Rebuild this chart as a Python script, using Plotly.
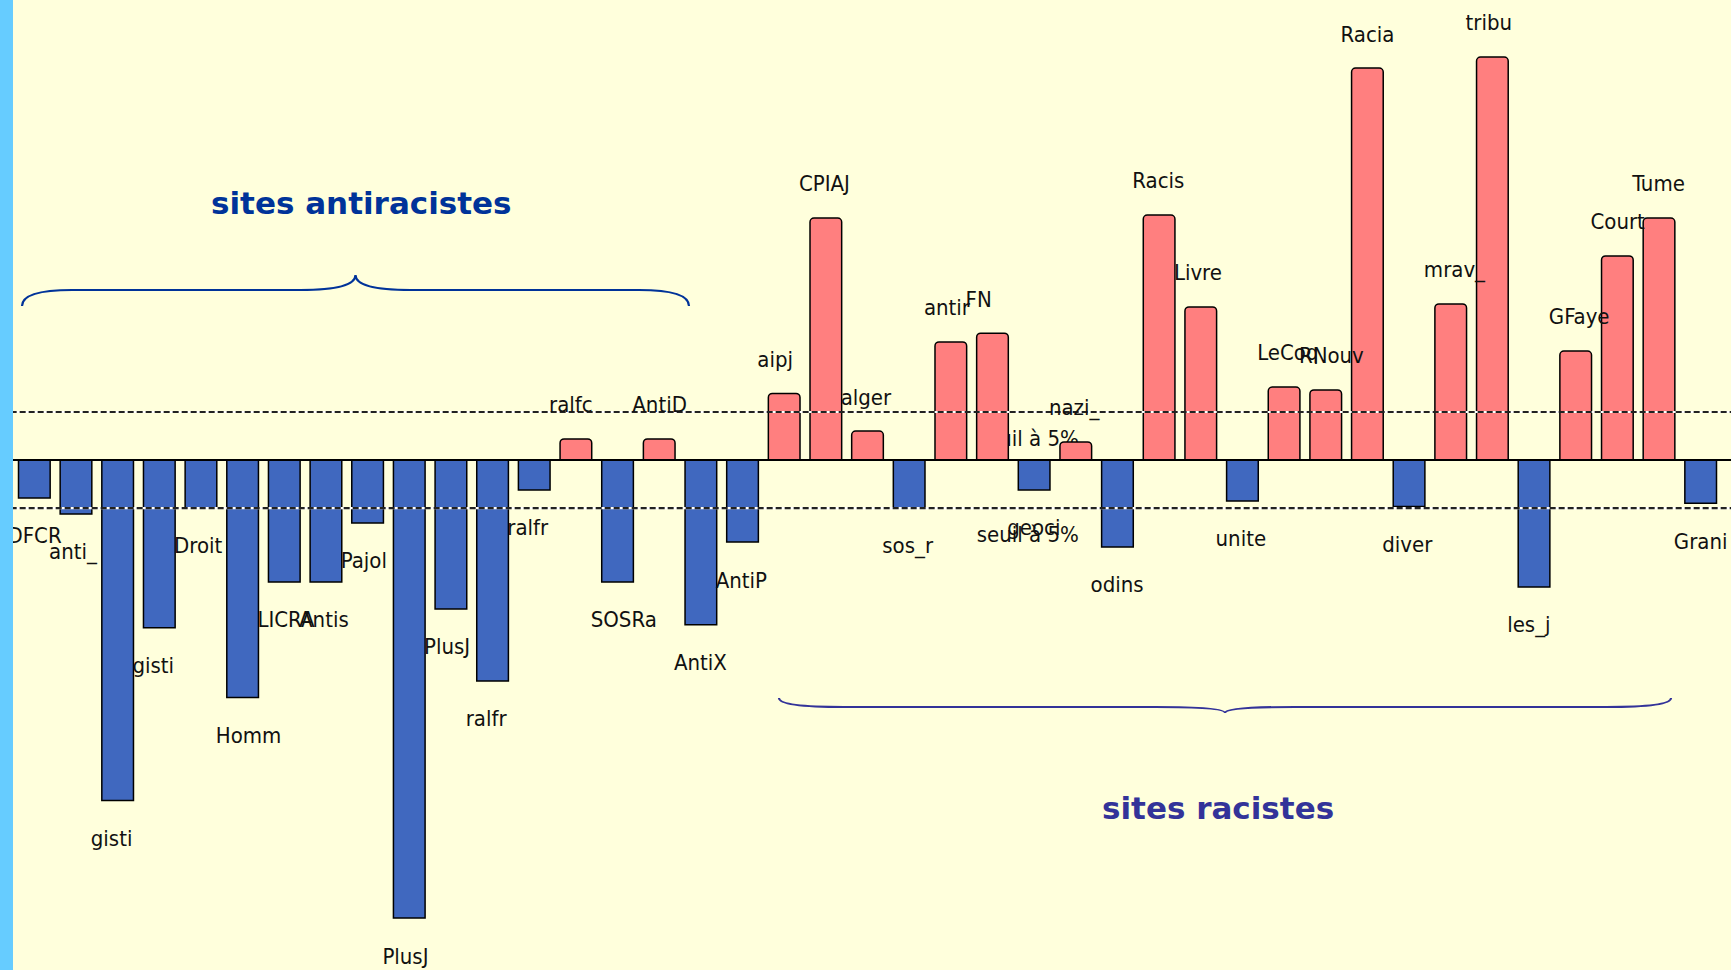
import plotly.graph_objects as go

# ---------------- data ----------------
sites = ["DFCR", "anti_", "gisti", "gisti", "Droit", "Homm", "LICRA", "Antis", "Pajol",
         "PlusJ", "PlusJ", "ralfr", "ralfr", "ralfc", "SOSRa", "AntiD", "AntiX", "AntiP",
         "aipj", "CPIAJ", "alger", "sos_r", "antir", "FN", "geoci", "nazi_", "odins",
         "Racis", "Livre", "unite", "LeCoq", "RNouv", "Racia", "diver", "mrav_", "tribu",
         "les_j", "GFaye", "Court", "Tume", "Grani"]
residus = [-1.55, -2.2, -13.9, -6.85, -1.96, -9.7, -4.98, -4.98, -2.57,
           -18.7, -6.08, -9.02, -1.22, 0.86, -4.98, 0.86, -6.73, -3.35,
           2.72, 9.88, 1.18, -1.96, 4.82, 5.18, -1.22, 0.74, -3.55,
           10.0, 6.25, -1.67, 2.98, 2.86, 16.0, -1.9, 6.37, 16.45,
           -5.18, 4.45, 8.33, 9.88, -1.76]
seuil = 1.96
seuil_label = "seuil à 5%"
groupes = ["sites antiracistes", "sites racistes"]

# ---------------- layout constants ----------------
W, H = 1731, 970
ML = 13
N = len(sites)
X_RANGE = [-0.512, N - 0.272]
Y_RANGE = [-20.82, 18.78]
BG = "#FFFFDC"
STRIP = "#66CCFF"
BLUE = "#4068BF"
PINK = "#FF7F7F"
LABEL_FONT = dict(family="Liberation Sans Narrow, DejaVu Sans Condensed, Liberation Sans, sans-serif",
                  size=22, color="#111111")
OFF_POS, OFF_NEG, OFF_X = 1.31, 1.63, 0.645
SEUIL_X = 22.62
SEUIL_OFF = 1.16

idx = list(range(N))
neg = [v if v < 0 else None for v in residus]
pos = [v if v > 0 else None for v in residus]

fig = go.Figure()

# threshold label for the upper line, on the base subplot (drawn under the bars)
fig.add_trace(go.Scatter(x=[SEUIL_X], y=[seuil - SEUIL_OFF], mode="text", text=[seuil_label],
                         textposition="middle right", textfont=LABEL_FONT,
                         hoverinfo="skip", showlegend=False, xaxis="x", yaxis="y"))

# bars on overlay subplot
fig.add_trace(go.Bar(x=idx, y=neg, marker=dict(color=BLUE, line=dict(color="black", width=1.5)),
                     width=0.76, hoverinfo="skip", showlegend=False, xaxis="x2", yaxis="y2"))
fig.add_trace(go.Bar(x=idx, y=pos, marker=dict(color=PINK, cornerradius=4,
                                               line=dict(color="black", width=1.5)),
                     width=0.76, hoverinfo="skip", showlegend=False, xaxis="x2", yaxis="y2"))

# baseline
fig.add_trace(go.Scatter(x=[-1, N], y=[0, 0], mode="lines", line=dict(color="black", width=2),
                         hoverinfo="skip", showlegend=False, xaxis="x2", yaxis="y2"))
# threshold lines (white under black dashes)
tx = [-1, N, None, -1, N]
ty = [seuil, seuil, None, -seuil, -seuil]
fig.add_trace(go.Scatter(x=tx, y=ty, mode="lines", line=dict(color="white", width=2.2),
                         hoverinfo="skip", showlegend=False, xaxis="x2", yaxis="y2"))
fig.add_trace(go.Scatter(x=tx, y=ty, mode="lines", line=dict(color="#222222", width=2.2, dash="6px,3px"),
                         hoverinfo="skip", showlegend=False, xaxis="x2", yaxis="y2"))

# bar labels
lx = [i - OFF_X for i in idx]
ly = [v + OFF_POS if v > 0 else v - OFF_NEG for v in residus]
fig.add_trace(go.Scatter(x=lx, y=ly, mode="text", text=sites, textposition="middle right",
                         textfont=LABEL_FONT, hoverinfo="skip", showlegend=False,
                         xaxis="x2", yaxis="y2"))
# lower threshold label
fig.add_trace(go.Scatter(x=[SEUIL_X], y=[-seuil - SEUIL_OFF], mode="text", text=[seuil_label],
                         textposition="middle right", textfont=LABEL_FONT,
                         hoverinfo="skip", showlegend=False, xaxis="x2", yaxis="y2"))


def px(xp):
    return (xp - ML) / (W - ML)


def py(yp):
    return 1 - yp / H


def brace(x0, x1, y_line, y_end, y_tip, w_end, w_tip):
    xc = (x0 + x1) / 2
    return (f"M {px(x0)},{py(y_end)} Q {px(x0)},{py(y_line)} {px(x0 + w_end)},{py(y_line)} "
            f"L {px(xc - w_tip)},{py(y_line)} Q {px(xc)},{py(y_line)} {px(xc)},{py(y_tip)} "
            f"Q {px(xc)},{py(y_line)} {px(xc + w_tip)},{py(y_line)} "
            f"L {px(x1 - w_end)},{py(y_line)} Q {px(x1)},{py(y_line)} {px(x1)},{py(y_end)}")


shapes = [
    dict(type="path", xref="paper", yref="paper",
         path=brace(22, 689, 290, 306, 275, 50, 55),
         line=dict(color="#003399", width=2.2)),
    dict(type="path", xref="paper", yref="paper",
         path=brace(779, 1671, 707, 698, 713, 65, 70),
         line=dict(color="#333399", width=2.2)),
]

annotations = [
    dict(text=groupes[0], xref="paper", yref="paper", x=px(361), y=py(203),
         xanchor="center", yanchor="middle", showarrow=False,
         font=dict(family="DejaVu Sans", size=31, color="#003399", weight="bold")),
    dict(text=groupes[1], xref="paper", yref="paper", x=px(1218), y=py(808),
         xanchor="center", yanchor="middle", showarrow=False,
         font=dict(family="DejaVu Sans", size=31, color="#333399", weight="bold")),
]

axis_common = dict(visible=False, fixedrange=True)
fig.update_layout(
    width=W, height=H,
    margin=dict(l=ML, r=0, t=0, b=0, pad=0),
    paper_bgcolor=STRIP, plot_bgcolor=BG,
    barmode="overlay",
    showlegend=False,
    xaxis=dict(range=X_RANGE, **axis_common),
    yaxis=dict(range=Y_RANGE, **axis_common),
    xaxis2=dict(range=X_RANGE, overlaying="x", **axis_common),
    yaxis2=dict(range=Y_RANGE, overlaying="y", **axis_common),
    shapes=shapes,
    annotations=annotations,
    hovermode=False,
)

fig.write_html("out.html", config={"displayModeBar": False, "staticPlot": True},
               post_script="document.body.style.margin='0';document.body.style.overflow='hidden';")
